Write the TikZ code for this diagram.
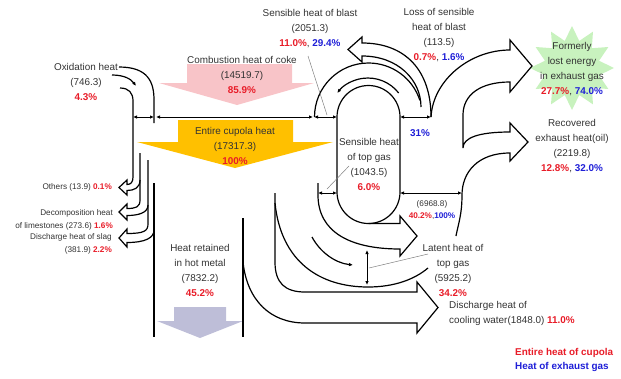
\documentclass[tikz,border=0pt]{standalone}
\usepackage{fontspec}
\setmainfont{Liberation Sans}
\usetikzlibrary{arrows.meta,positioning,shapes.geometric}
\definecolor{pctred}{RGB}{232,28,40}
\definecolor{pctblue}{RGB}{30,30,215}
\definecolor{cokepink}{RGB}{248,196,200}
\definecolor{cupyellow}{RGB}{255,192,0}
\definecolor{metalgrey}{RGB}{190,190,216}
\definecolor{burstgreen}{RGB}{200,242,190}
\newcommand{\rp}[1]{\textcolor{pctred}{\bfseries #1}}
\newcommand{\bp}[1]{\textcolor{pctblue}{\bfseries #1}}

\begin{document}
\begin{tikzpicture}[x=1pt,y=-1pt,>={Latex[length=4pt,width=3.5pt]},band/.style={line width=1.2pt},dim/.style={<->,line width=0.9pt},flow/.style={->,line width=1.2pt},lead/.style={gray,line width=0.5pt},lbl/.style={font=\fontsize{9.9}{15}\selectfont,text=black!80,align=center,inner sep=0pt},small/.style={font=\fontsize{8.2}{12.5}\selectfont,text=black!80,align=right,inner sep=0pt}]
\useasboundingbox (0,0) rectangle (621,378);
% coloured arrows
\fill[cokepink] (187,64) -- (292,64) -- (292,83) -- (314,83) -- (237,105) -- (159,83) -- (187,83) -- cycle;
\fill[cupyellow] (178,120) -- (293,120) -- (293,142) -- (333,142) -- (235,168) -- (137,142) -- (178,142) -- cycle;
\fill[metalgrey] (174,307) -- (226,307) -- (226,321) -- (243,321) -- (200,338) -- (157,321) -- (174,321) -- cycle;
\node[star,star points=12,star point ratio=1.5,minimum size=84pt,fill=burstgreen,inner sep=0pt] (burst) at (572,68) {};
\begin{scope}[every path/.style={band}]
% oxidation heat
\draw (119,67) .. controls (148,67) and (154,82) .. (154,100) -- (154,123);
\draw[flow] (112,75) .. controls (124,75) and (131,79) .. (136,86);
% left outputs
\draw (120,88) .. controls (129,88) and (133,93) .. (133,101) -- (133,177) .. controls (133,182) and (131,184.5) .. (127,184.5) -- (127,180) -- (119,187.5) -- (127,195) -- (127,190.5) .. controls (134,190.5) and (140,188) .. (140,180);
\draw (140,153) -- (140,200) .. controls (140,207) and (136,208.5) .. (127,208.5) -- (127,204) -- (119,212) -- (127,220) -- (127,215.5) .. controls (138,215.5) and (148,213) .. (148,205);
\draw (148,160) -- (148,224) .. controls (148,231) and (144,233.5) .. (127,233.5) -- (127,229) -- (119,238) -- (127,247) -- (127,242.5) .. controls (145,242.5) and (154,238) .. (154,230);
\draw (154,183) -- (154,337);
\draw (243,218) -- (243,337);
% cooling water
\draw (275,193) -- (275,262) .. controls (275,283) and (285,292) .. (305,292) -- (417,292) -- (417,282) -- (438,307.5) -- (417,333) -- (417,323) -- (305,323) .. controls (270,323) and (247,300) .. (243,262);
% latent heat of top gas
\draw (275,203) .. controls (281,262) and (320,287) .. (368,287) .. controls (395,287) and (415,279) .. (428,268);
\draw[flow] (312,237) .. controls (320,252) and (335,263) .. (353,265);
% sensible heat of top gas
\draw (318,183) -- (318,195) .. controls (318,232) and (350,249) .. (400,249) -- (400,256) -- (417,236) -- (400,216) -- (400,223.5) -- (368.5,223.5);
% cupola
\draw (337,117) -- (337,192) arc[start angle=180,end angle=360,radius=31.5pt] -- (400,117) arc[start angle=0,end angle=180,radius=31.5pt];
% blast
\draw (314.5,117) arc[start angle=180,end angle=18,radius=54pt];
\draw[flow] (398.7,93) arc[start angle=38,end angle=142,radius=39pt];
\draw (431,117) .. controls (431,70) and (405,43) .. (362,43) -- (362,37) -- (348,49.5) -- (362,62) -- (362,56) .. controls (398,56) and (421,80) .. (421,107);
% exhaust gas
\draw (431,117) .. controls (433,80) and (470,50) .. (510,50) -- (510,40) -- (532,66) -- (510,92) -- (510,82) .. controls (480,82) and (463,95) .. (463,115) -- (463,148) .. controls (463,138) and (478,132) .. (510,132) -- (510,123) -- (528,142) -- (510,161) -- (510,153) .. controls (478,153) and (462,172) .. (462,195) .. controls (462,215) and (458,225) .. (456,236);
\end{scope}
% widths
\draw[dim] (133,117) -- (154,117);
\draw[dim] (156,117) -- (313,117);
\draw[dim] (314,117) -- (337,117);
\draw[dim] (400,117) -- (431,117);
\draw[dim] (400,193) -- (462,193);
\draw[dim] (318,193) -- (337,193);
\draw[dim] (367,250) -- (367,285);
\draw[lead] (308,56) -- (327,115);
\draw[lead] (327,189) -- (349,166);
\draw[lead] (369,268) -- (428,254);
% labels
\begin{scope}[every node/.style={lbl}]
\node (oxi) at (86,82) {Oxidation heat\\(746.3)\\\rp{4.3\%}};
\node (coke) at (242,75) {Combustion heat of coke\\(14519.7)\\\rp{85.9\%}};
\node (cup) at (235,146) {Entire cupola heat\\(17317.3)\\\rp{100\%}};
\node (blast) at (310,29) {Sensible heat of blast\\(2051.3)\\\rp{11.0\%}, \bp{29.4\%}};
\node (loss) at (439,35.5) {Loss of sensible\\heat of blast\\(113.5)\\\rp{0.7\%}, \bp{1.6\%}};
\node (topsens) at (369,164) {Sensible heat\\of top gas\\(1043.5)\\\rp{6.0\%}};
\node (share) at (420,133) {\bp{31\%}};
\node (lost) at (572,69.5) {Formerly\\lost energy\\in exhaust gas\\\rp{27.7\%}, \bp{74.0\%}};
\node (oil) at (572,146.5) {Recovered\\exhaust heat(oil)\\(2219.8)\\\rp{12.8\%}, \bp{32.0\%}};
\node (latent) at (453,270) {Latent heat of\\top gas\\(5925.2)\\\rp{34.2\%}};
\node[anchor=west,align=left] (water) at (449,313) {Discharge heat of\\cooling water(1848.0) \rp{11.0\%}};
\node (metal) at (200,270.5) {Heat retained\\in hot metal\\(7832.2)\\\rp{45.2\%}};
\node[anchor=west,align=left] (keyred) at (515,353) {\rp{Entire heat of cupola}};
\node[anchor=west,align=left] (keyblue) at (515,367) {\bp{Heat of exhaust gas}};
\end{scope}
\begin{scope}[every node/.style={small}]
\node[anchor=east] (others) at (112,187) {Others (13.9) \rp{0.1\%}};
\node[anchor=east] (lime) at (113,220) {Decomposition heat\\of limestones (273.6) \rp{1.6\%}};
\node[anchor=east] (slag) at (112,244) {Discharge heat of slag\\(381.9) \rp{2.2\%}};
\node[align=center] (gas) at (432,210) {(6968.8)\\\rp{40.2\%},\bp{100\%}};
\end{scope}
\end{tikzpicture}
\end{document}
